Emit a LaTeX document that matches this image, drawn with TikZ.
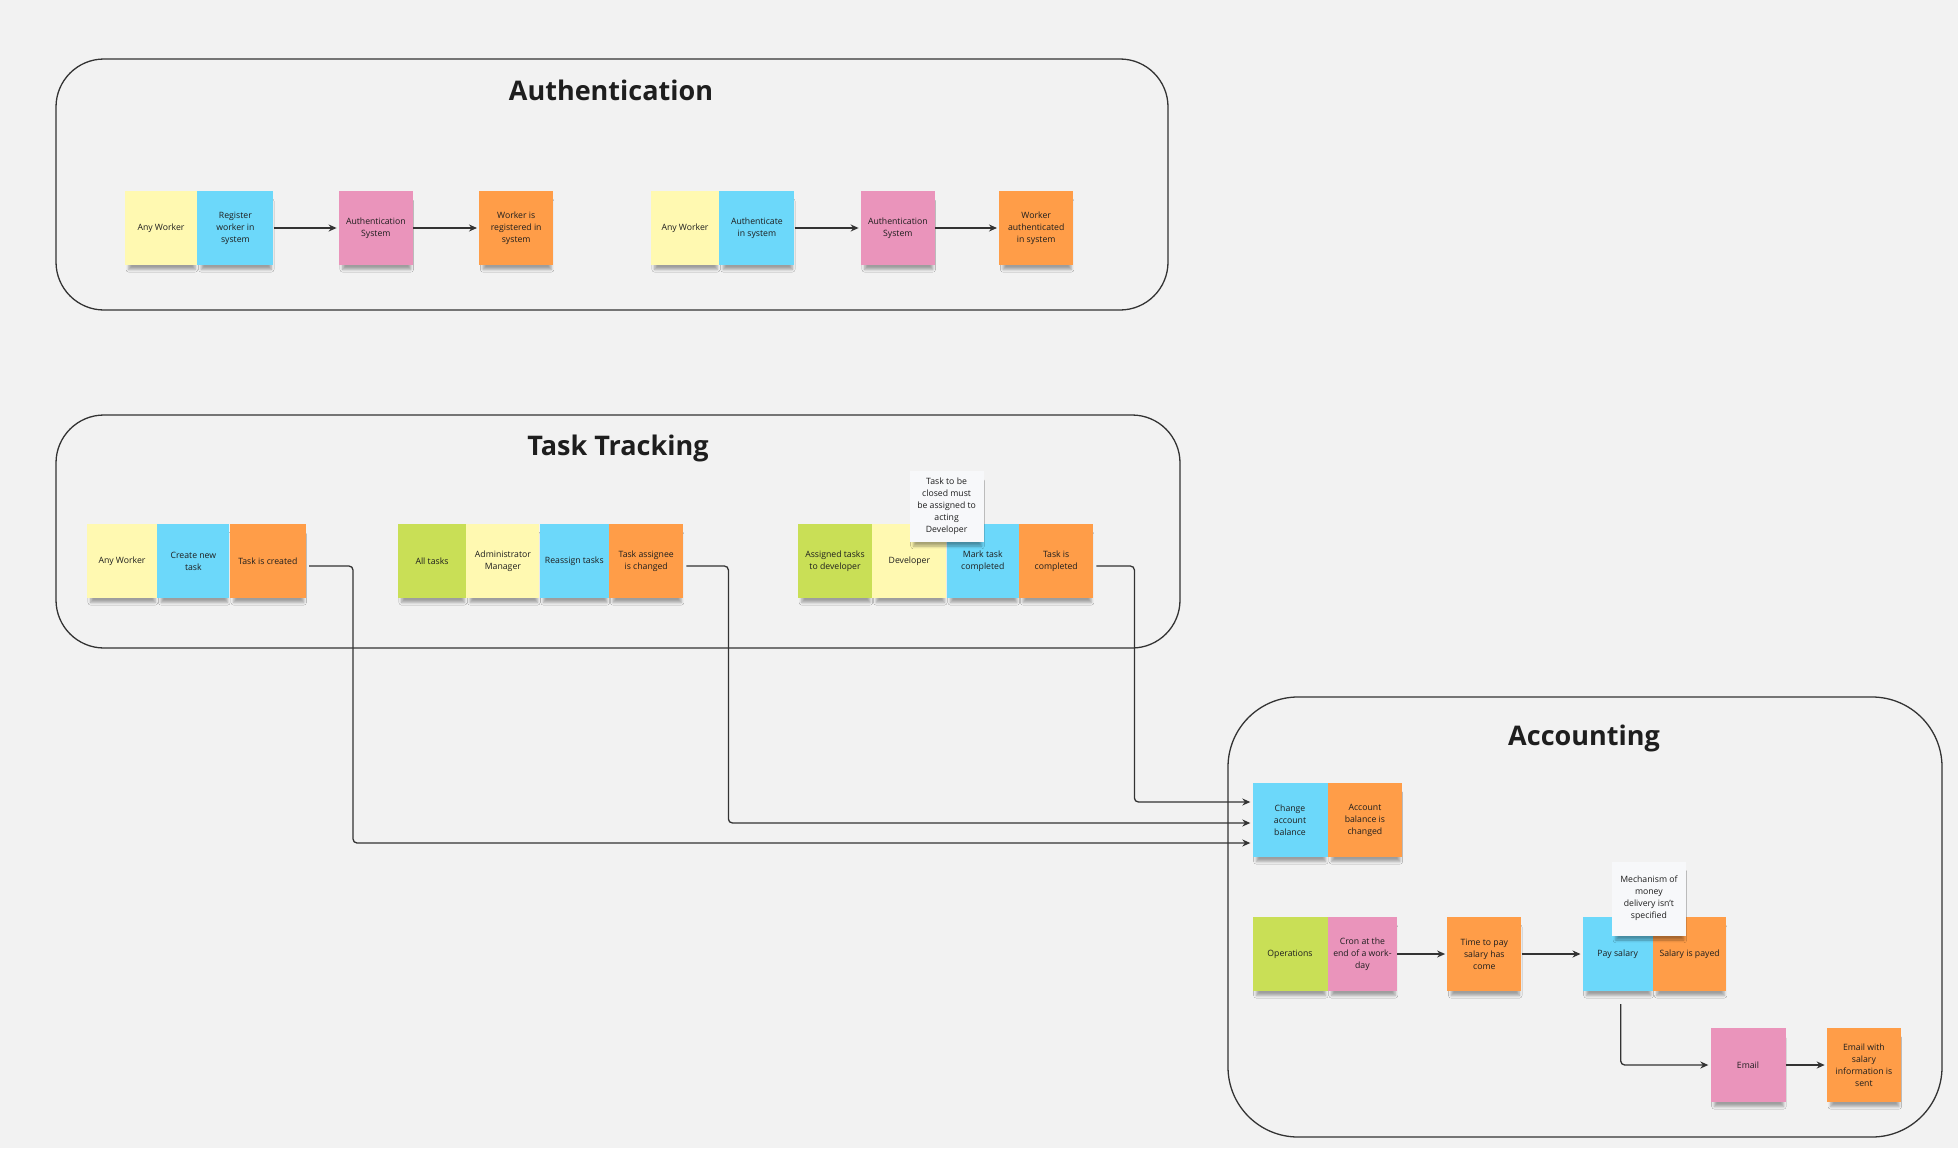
\documentclass[tikz,border=0pt]{standalone}
\usepackage{fontspec}
\setmainfont{Open Sans}
\usetikzlibrary{positioning,arrows.meta,shadows.blur}

\definecolor{bg}{HTML}{F2F2F2}
\definecolor{ink}{HTML}{1E1E1E}
\definecolor{line}{HTML}{333333}
\definecolor{yellowsticky}{HTML}{FFF9B1}
\definecolor{bluesticky}{HTML}{6CD8FA}
\definecolor{pinksticky}{HTML}{EA94BB}
\definecolor{orangesticky}{HTML}{FF9D48}
\definecolor{greensticky}{HTML}{C9DF56}
\definecolor{notesticky}{HTML}{F7F8FA}

\tikzset{
  sticky/.style={minimum width=74pt,minimum height=74pt,inner sep=1pt,align=center,
    text=ink,font=\fontsize{8.7}{12}\selectfont,
    blur shadow={shadow scale=.92,shadow xshift=1pt,shadow yshift=-8pt,
      shadow blur radius=3pt,shadow opacity=35}},
  note/.style={sticky,fill=notesticky,minimum height=71pt},
  context/.style={draw=line,line width=1.3pt},
  boxtitle/.style={anchor=base,text=ink,font=\fontsize{27}{32}\selectfont\bfseries},
  flow/.style={->,draw=line,line width=1.3pt,rounded corners=4pt,shorten >=2pt},
}

\begin{document}
\begin{tikzpicture}[x=1pt,y=-1pt,>={Stealth[length=8pt,width=7pt]}]
  \useasboundingbox[fill=bg] (0,0) rectangle (1958,1148);

  % bounded contexts
  \draw[context,rounded corners=48pt] (56,59) rectangle (1168,310);
  \draw[context,rounded corners=48pt] (56,415) rectangle (1180,648);
  \draw[context,rounded corners=70pt] (1228,697) rectangle (1942,1137);
  \node[boxtitle] (authtitle) at (611,100) {Authentication};
  \node[boxtitle] (tasktitle) at (618,455) {Task Tracking};
  \node[boxtitle] (acctitle) at (1584,745) {Accounting};

  % authentication
  \node[sticky,fill=yellowsticky,minimum width=72pt] (a1) at (161,228) {Any Worker};
  \node[sticky,fill=bluesticky,minimum width=76pt,right=0pt of a1] (a2) {Register\\worker in\\system};
  \node[sticky,fill=pinksticky,right=65pt of a2] (a3) {Authentication\\System};
  \node[sticky,fill=orangesticky,right=66pt of a3] (a4) {Worker is\\registered in\\system};

  \node[sticky,fill=yellowsticky,minimum width=68pt] (a5) at (685,228) {Any Worker};
  \node[sticky,fill=bluesticky,minimum width=75pt,right=0pt of a5] (a6) {Authenticate\\in system};
  \node[sticky,fill=pinksticky,right=66pt of a6] (a7) {Authentication\\System};
  \node[sticky,fill=orangesticky,right=64pt of a7] (a8) {Worker\\authenticated\\in system};

  \draw[flow] (a2) -- (a3);
  \draw[flow] (a3) -- (a4);
  \draw[flow] (a6) -- (a7);
  \draw[flow] (a7) -- (a8);

  % task tracking
  \node[sticky,fill=yellowsticky,minimum width=70pt] (t1) at (122,561) {Any Worker};
  \node[sticky,fill=bluesticky,minimum width=72pt,right=0pt of t1] (t2) {Create new\\task};
  \node[sticky,fill=orangesticky,minimum width=76pt,right=0pt of t2] (t3) {Task is created};

  \node[sticky,fill=greensticky,minimum width=68pt] (t4) at (432,561) {All tasks};
  \node[sticky,fill=yellowsticky,minimum width=73pt,right=0pt of t4] (t5) {Administrator\\Manager};
  \node[sticky,fill=bluesticky,minimum width=69pt,right=0pt of t5] (t6) {Reassign tasks};
  \node[sticky,fill=orangesticky,right=0pt of t6] (t7) {Task assignee\\is changed};

  \node[sticky,fill=greensticky] (t8) at (835,561) {Assigned tasks\\to developer};
  \node[sticky,fill=yellowsticky,right=0pt of t8] (t9) {Developer};
  \node[sticky,fill=bluesticky,minimum width=72pt,right=0pt of t9] (t10) {Mark task\\completed};
  \node[sticky,fill=orangesticky,right=0pt of t10] (t11) {Task is\\completed};
  \node[note,above=-18pt of t9.north east] (n1) {Task to be\\closed must\\be assigned to\\acting\\Developer};

  % accounting
  \node[sticky,fill=bluesticky,minimum width=75pt] (c1) at (1290,820) {Change\\account\\balance};
  \node[sticky,fill=orangesticky,right=0pt of c1] (c2) {Account\\balance is\\changed};

  \node[sticky,fill=greensticky,minimum width=75pt] (c3) at (1290,954) {Operations};
  \node[sticky,fill=pinksticky,minimum width=69pt,right=0pt of c3] (c4) {Cron at the\\end of a work-\\day};
  \node[sticky,fill=orangesticky,right=50pt of c4] (c5) {Time to pay\\salary has\\come};
  \node[sticky,fill=bluesticky,minimum width=70pt,right=61pt of c5] (c6) {Pay salary};
  \node[sticky,fill=orangesticky,minimum width=73pt,right=0pt of c6] (c7) {Salary is payed};
  \node[note,minimum height=74pt,above=-19pt of c6.north east,xshift=-4pt] (n2) {Mechanism of\\money\\delivery isn't\\specified};

  \node[sticky,fill=pinksticky,minimum width=75pt] (c8) at (1748,1065) {Email};
  \node[sticky,fill=orangesticky,right=41pt of c8] (c9) {Email with\\salary\\information is\\sent};

  \draw[flow] ([xshift=3pt,yshift=-5pt]t3.east) -- ++(44,0) |- ([yshift=-23pt]c1.west);
  \draw[flow] ([xshift=3pt,yshift=-5pt]t7.east) -- ++(42,0) |- ([yshift=-3pt]c1.west);
  \draw[flow] ([xshift=3pt,yshift=-5pt]t11.east) -- ++(38,0) |- ([yshift=18pt]c1.west);
  \draw[flow] (c4) -- (c5);
  \draw[flow] (c5) -- (c6);
  \draw[flow] ([xshift=3pt,yshift=-13pt]c6.south) |- (c8);
  \draw[flow] (c8) -- (c9);
\end{tikzpicture}
\end{document}
